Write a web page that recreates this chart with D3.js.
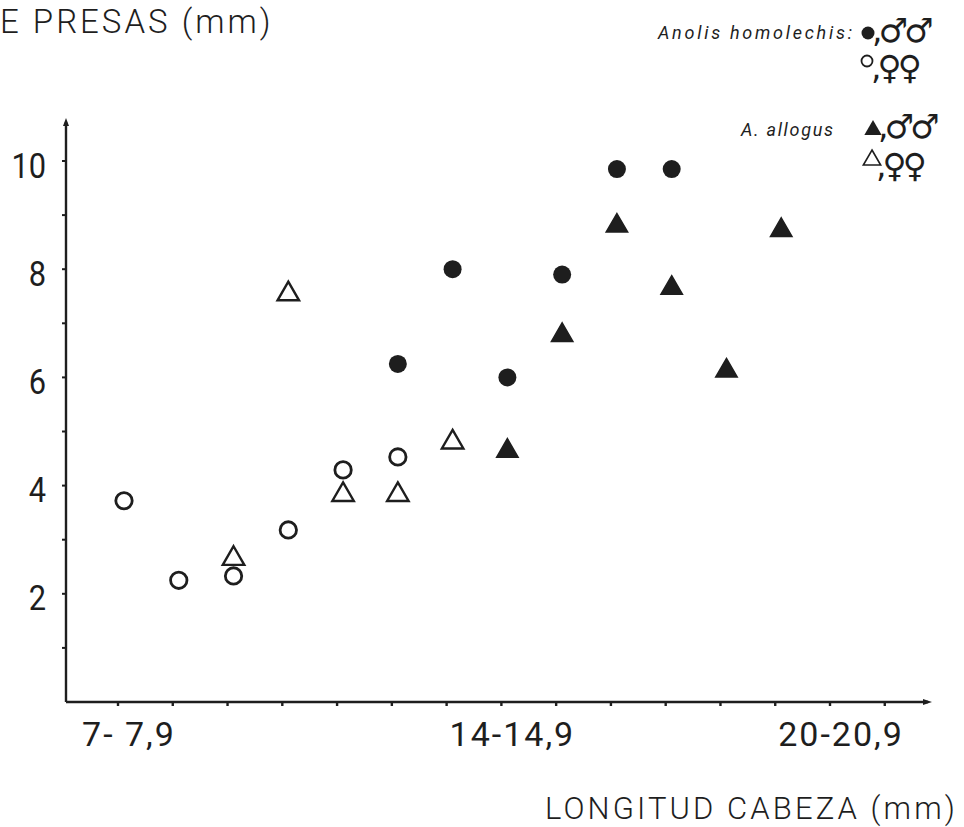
<!DOCTYPE html>
<html><head><meta charset="utf-8">
<script src="https://cdn.jsdelivr.net/npm/d3@7/dist/d3.min.js"></script>
<style>
html,body{margin:0;padding:0;background:#fff;}
svg{display:block;}
</style></head>
<body>
<svg id="chart" width="964" height="827"></svg>
<script>
// ---- data ----
const xTickValues = [7,8,9,10,11,12,13,14,15,16,17,18,19,20,21];
const xLabelValues = [7, 14, 20];
const xLabels = ["7- 7,9", "14-14,9", "20-20,9"];
const yTickValues = [1,2,3,4,5,6,7,8,9,10];
const yLabelValues = [2,4,6,8,10];

const homolechisFemX = [7, 8, 9, 10, 11, 12];
const homolechisFemY = [3.72, 2.25, 2.33, 3.18, 4.29, 4.53];
const allogusFemX = [9, 10, 11, 12, 13];
const allogusFemY = [2.65, 7.54, 3.83, 3.83, 4.80];
const homolechisMaleX = [12, 13, 14, 15, 16, 17];
const homolechisMaleY = [6.25, 8.00, 6.00, 7.90, 9.85, 9.85];
const allogusMaleX = [14, 15, 16, 17, 18, 19];
const allogusMaleY = [4.64, 6.78, 8.80, 7.65, 6.12, 8.72];

const yTitle = "E PRESAS (mm)";
const xTitle = "LONGITUD CABEZA (mm)";
const legendSpecies = ["Anolis homolechis:", "A. allogus"];
const maleText = ",♂♂";
const femaleText = ",♀♀";

// ---- drawing ----
const svg = d3.select("#chart");
const ink = "#1e1e1e";
const font = "Roboto, 'DejaVu Sans', sans-serif";

const x = d3.scaleLinear().domain([7, 20]).range([118, 830]);
const y = d3.scaleLinear().domain([0, 10]).range([702, 161]);
const xAxisLeft = 66, xAxisRight = 932, yAxisTop = 118;
const pointShift = 6;

// axes lines
svg.append("line").attr("x1", xAxisLeft).attr("x2", xAxisLeft)
  .attr("y1", y(0)).attr("y2", yAxisTop + 4)
  .attr("stroke", ink).attr("stroke-width", 2.4);
svg.append("line").attr("x1", xAxisLeft).attr("x2", xAxisRight - 4)
  .attr("y1", y(0)).attr("y2", y(0))
  .attr("stroke", ink).attr("stroke-width", 2.4);
svg.append("path")
  .attr("d", `M${xAxisLeft-3},${yAxisTop+8} L${xAxisLeft},${yAxisTop} L${xAxisLeft+3},${yAxisTop+8} Z`)
  .attr("fill", ink);
svg.append("path")
  .attr("d", `M${xAxisRight-9},${y(0)-3} L${xAxisRight},${y(0)} L${xAxisRight-9},${y(0)+3} Z`)
  .attr("fill", ink);

// y ticks
svg.append("g").selectAll("line").data(yTickValues).join("line")
  .attr("x1", xAxisLeft - 4).attr("x2", xAxisLeft)
  .attr("y1", d => y(d)).attr("y2", d => y(d))
  .attr("stroke", ink).attr("stroke-width", 2);
svg.append("g").selectAll("text").data(yLabelValues).join("text")
  .attr("transform", d => `translate(46,${y(d) + 4}) scale(0.88,1)`)
  .attr("dy", "0.36em")
  .attr("text-anchor", "end")
  .attr("font-family", font).attr("font-size", 35).attr("fill", ink)
  .text(d => d);

// x ticks
svg.append("g").selectAll("line").data(xTickValues).join("line")
  .attr("x1", d => x(d)).attr("x2", d => x(d))
  .attr("y1", y(0)).attr("y2", y(0) + 4)
  .attr("stroke", ink).attr("stroke-width", 2.4);
svg.append("g").selectAll("text").data(xLabelValues).join("text")
  .attr("x", d => x(d) + 11).attr("y", 746)
  .attr("text-anchor", "middle")
  .attr("font-family", font).attr("font-size", 34).attr("font-weight", 400)
  .attr("fill", ink).attr("letter-spacing", 2)
  .text((d, i) => xLabels[i]);

// titles
svg.append("text").attr("x", 0).attr("y", 33)
  .attr("font-family", font).attr("font-size", 33).attr("font-weight", 300)
  .attr("fill", ink).attr("letter-spacing", 3)
  .text(yTitle);
svg.append("text").attr("x", 545).attr("y", 819)
  .attr("font-family", font).attr("font-size", 31).attr("font-weight", 300)
  .attr("fill", ink).attr("letter-spacing", 3.1)
  .text(xTitle);

// markers
const g = svg.append("g").attr("transform", `translate(${pointShift},0)`);
const circleR = 8.2;
const triSize = 200;
function pts(xs, ys) { return xs.map((v, i) => ({ x: v, y: ys[i] })); }

g.append("g").selectAll("circle").data(pts(homolechisFemX, homolechisFemY)).join("circle")
  .attr("cx", d => x(d.x)).attr("cy", d => y(d.y)).attr("r", circleR)
  .attr("fill", "none").attr("stroke", ink).attr("stroke-width", 2.8);
g.append("g").selectAll("circle").data(pts(homolechisMaleX, homolechisMaleY)).join("circle")
  .attr("cx", d => x(d.x)).attr("cy", d => y(d.y)).attr("r", circleR + 0.8)
  .attr("fill", ink);
const tri = d3.symbol().type(d3.symbolTriangle).size(triSize);
g.append("g").selectAll("path").data(pts(allogusFemX, allogusFemY)).join("path")
  .attr("d", tri).attr("transform", d => `translate(${x(d.x)},${y(d.y)})`)
  .attr("fill", "none").attr("stroke", ink).attr("stroke-width", 2.4);
g.append("g").selectAll("path").data(pts(allogusMaleX, allogusMaleY)).join("path")
  .attr("d", tri).attr("transform", d => `translate(${x(d.x)},${y(d.y)})`)
  .attr("fill", ink).attr("stroke", ink).attr("stroke-width", 1.5);

// legend
const lg = svg.append("g");
lg.append("text").attr("x", 658).attr("y", 39)
  .attr("font-family", font).attr("font-style", "italic").attr("font-size", 18)
  .attr("fill", ink).attr("textLength", 194).attr("lengthAdjust", "spacing")
  .text(legendSpecies[0]);
lg.append("text").attr("x", 741).attr("y", 136)
  .attr("font-family", font).attr("font-style", "italic").attr("font-size", 18)
  .attr("fill", ink).attr("textLength", 92).attr("lengthAdjust", "spacing")
  .text(legendSpecies[1]);

const symFont = "'DejaVu Sans', sans-serif";
function signs(str, x0, base) {
  lg.append("text").attr("x", x0).attr("y", base)
    .attr("font-family", symFont).attr("font-size", 33).attr("fill", ink)
    .attr("letter-spacing", -4).text(str);
}
// row 1: homolechis males
lg.append("circle").attr("cx", 868).attr("cy", 33).attr("r", 6.5).attr("fill", ink);
signs(maleText, 872, 42);
// row 2: homolechis females
lg.append("circle").attr("cx", 867).attr("cy", 61).attr("r", 5.5)
  .attr("fill", "none").attr("stroke", ink).attr("stroke-width", 1.8);
signs(femaleText, 871, 79);
// row 3: allogus males
const smallTri = d3.symbol().type(d3.symbolTriangle).size(130);
lg.append("path").attr("d", smallTri).attr("transform", "translate(873,130)").attr("fill", ink);
signs(maleText, 878, 138);
// row 4: allogus females
lg.append("path").attr("d", smallTri).attr("transform", "translate(872,160)")
  .attr("fill", "none").attr("stroke", ink).attr("stroke-width", 1.6);
signs(femaleText, 876, 177);
</script>
</body></html>
